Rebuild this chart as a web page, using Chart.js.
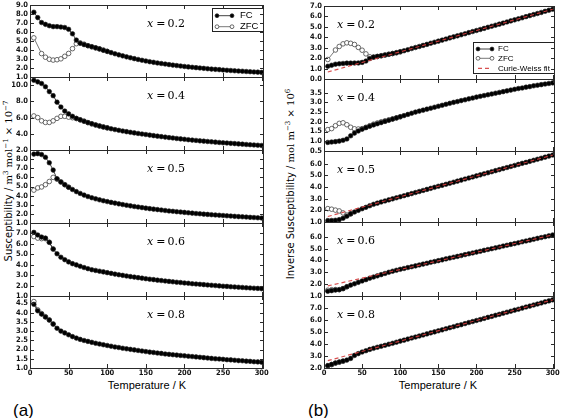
<!DOCTYPE html>
<html>
<head>
<meta charset="utf-8">
<script src="https://cdn.jsdelivr.net/npm/chart.js@4.4.0/dist/chart.umd.min.js"></script>
<style>
  html, body { margin: 0; padding: 0; background: #fff; }
  #fig { position: relative; width: 561px; height: 418px; overflow: hidden; font-family: "DejaVu Sans", sans-serif; color: #000; }
  #fig canvas { position: absolute; }
  .txt { position: absolute; white-space: nowrap; line-height: 1; }
  .ytitle { font-size: 10px; transform: translate(-50%, -50%) rotate(-90deg); }
  .ytitle .u { font-family: "DejaVu Serif", serif; }
  .ytitle sup { font-size: 70%; vertical-align: 4px; }
  .xtitle { font-family: "Liberation Sans", sans-serif; font-size: 11px; transform: translate(-50%, -50%); }
  .tag { font-family: "Liberation Sans", sans-serif; font-size: 17px; transform: translateY(-50%); }
</style>
</head>
<body>
<div id="fig">
  <div class="txt ytitle" style="left:8px; top:181px;">Susceptibility / <span class="u">m<sup>3</sup> mol<sup>−1</sup> × 10<sup>−7</sup></span></div>
  <div class="txt ytitle" style="left:290px; top:184px;">Inverse Susceptibility / <span class="u">mol m<sup>−3</sup> × 10<sup>6</sup></span></div>
  <div class="txt xtitle" style="left:147px; top:385px;">Temperature / K</div>
  <div class="txt xtitle" style="left:438px; top:385px;">Temperature / K</div>
  <div class="txt tag" style="left:13px; top:410px;">(a)</div>
  <div class="txt tag" style="left:308px; top:410px;">(b)</div>
</div>
<script>
// Temperatures (K) of the measured points
const temps = [5, 10, 15, 20, 25, 30, 35, 40, 45, 50, 55, 60, 65, 70, 75, 80, 85, 90, 95, 100,
  105, 110, 115, 120, 125, 130, 135, 140, 145, 150, 155, 160, 165, 170, 175, 180, 185, 190, 195, 200,
  205, 210, 215, 220, 225, 230, 235, 240, 245, 250, 255, 260, 265, 270, 275, 280, 285, 290, 295, 300];
const cwTemps = [5, 300];
const compositions = ["0.2", "0.4", "0.5", "0.6", "0.8"];
const xTicks = [0, 50, 100, 150, 200, 250, 300];
const legendLabels = ["FC", "ZFC", "Curie-Weiss fit"];

// (a) susceptibility, x 10^-7 m^3 mol^-1
const chiFC02 = [8.2, 7.6, 7.05, 6.85, 6.7, 6.6, 6.6, 6.55, 6.5, 6.3, 5.8, 5.1, 4.75, 4.6, 4.48, 4.36, 4.24, 4.12, 3.98, 3.85,
  3.71, 3.58, 3.46, 3.35, 3.24, 3.14, 3.04, 2.95, 2.86, 2.78, 2.7, 2.63, 2.56, 2.5, 2.44, 2.38, 2.32, 2.27, 2.22, 2.17,
  2.12, 2.08, 2.04, 2.0, 1.96, 1.92, 1.88, 1.85, 1.82, 1.78, 1.75, 1.72, 1.69, 1.66, 1.64, 1.61, 1.59, 1.56, 1.54, 1.51];
const chiZFC02 = [5.35, null, 3.6, 3.2, 2.97, 2.88, 2.92, 3.02, 3.3, 3.62, 4.15, 4.7, 4.78, 4.65, 4.48, 4.36, 4.24, 4.12, 3.98, 3.85];

const chiFC04 = [10.6, 10.4, 10.2, 9.8, 9.2, 8.7, 7.9, 7.3, 6.8, 6.45, 6.15, 5.9, 5.72, 5.55, 5.38, 5.23, 5.09, 4.96, 4.84, 4.73,
  4.62, 4.52, 4.43, 4.34, 4.26, 4.18, 4.11, 4.04, 3.97, 3.91, 3.84, 3.77, 3.71, 3.65, 3.59, 3.53, 3.48, 3.42, 3.37, 3.32,
  3.27, 3.22, 3.18, 3.13, 3.09, 3.05, 3.01, 2.97, 2.93, 2.89, 2.86, 2.82, 2.79, 2.75, 2.72, 2.68, 2.65, 2.62, 2.59, 2.56];
const chiZFC04 = [6.2, 6.0, 5.6, 5.4, 5.4, 5.6, 5.9, 6.15, 6.15, 6.05, 5.98, 5.88, 5.72, 5.55, 5.38, 5.23, 5.09, 4.96, 4.84, 4.73];

const chiFC05 = [8.55, 8.6, 8.5, 8.2, 7.6, 6.8, 5.85, 5.5, 5.2, 4.92, 4.67, 4.44, 4.24, 4.06, 3.9, 3.77, 3.65, 3.54, 3.44, 3.35,
  3.26, 3.18, 3.1, 3.02, 2.95, 2.88, 2.81, 2.75, 2.69, 2.63, 2.57, 2.52, 2.47, 2.42, 2.37, 2.32, 2.28, 2.24, 2.2, 2.16,
  2.12, 2.08, 2.04, 2.01, 1.97, 1.94, 1.91, 1.88, 1.85, 1.82, 1.79, 1.76, 1.73, 1.7, 1.68, 1.65, 1.62, 1.6, 1.57, 1.55];
const chiZFC05 = [4.6, 4.85, 4.95, 5.2, 5.55, 6.0, 5.8, 5.5, 5.2, 4.92];

const chiFC06 = [7.1, 6.85, 6.65, 6.55, 6.15, 5.5, 5.05, 4.72, 4.48, 4.27, 4.1, 3.98, 3.85, 3.73, 3.62, 3.52, 3.45, 3.38, 3.31, 3.24,
  3.17, 3.1, 3.04, 2.98, 2.92, 2.86, 2.81, 2.76, 2.71, 2.66, 2.61, 2.57, 2.52, 2.48, 2.44, 2.4, 2.36, 2.32, 2.29, 2.25,
  2.22, 2.18, 2.15, 2.12, 2.09, 2.06, 2.03, 2.0, 1.97, 1.94, 1.92, 1.89, 1.87, 1.84, 1.82, 1.79, 1.77, 1.75, 1.73, 1.7];
const chiZFC06 = [6.7, 6.55, 6.5, 6.5, 6.15, 5.5];

const chiFC08 = [4.45, 4.1, 3.92, 3.76, 3.6, 3.38, 3.15, 3.0, 2.9, 2.8, 2.7, 2.62, 2.55, 2.49, 2.44, 2.39, 2.34, 2.3, 2.26, 2.22,
  2.18, 2.14, 2.11, 2.07, 2.04, 2.01, 1.98, 1.95, 1.92, 1.89, 1.86, 1.84, 1.81, 1.79, 1.76, 1.74, 1.72, 1.7, 1.68, 1.66,
  1.64, 1.62, 1.6, 1.58, 1.56, 1.54, 1.52, 1.5, 1.49, 1.47, 1.45, 1.44, 1.42, 1.4, 1.39, 1.37, 1.36, 1.34, 1.33, 1.31];
const chiZFC08 = [4.6, 4.15, 3.95, 3.78, 3.6, 3.38];

// (b) inverse susceptibility, x 10^6 mol m^-3
const invFC02 = [1.22, 1.32, 1.42, 1.46, 1.49, 1.52, 1.52, 1.53, 1.54, 1.59, 1.72, 1.96, 2.1, 2.17, 2.23, 2.3, 2.37, 2.44, 2.52, 2.61,
  2.71, 2.81, 2.92, 3.02, 3.12, 3.22, 3.32, 3.43, 3.53, 3.63, 3.73, 3.83, 3.94, 4.04, 4.14, 4.24, 4.34, 4.45, 4.55, 4.65,
  4.75, 4.85, 4.96, 5.06, 5.16, 5.26, 5.36, 5.47, 5.57, 5.67, 5.77, 5.87, 5.98, 6.08, 6.18, 6.28, 6.38, 6.49, 6.59, 6.69];
const invZFC02 = [1.87, null, 2.78, 3.12, 3.37, 3.47, 3.42, 3.31, 3.03, 2.76, 2.41, 2.13, 2.09, 2.15, 2.23, 2.3, 2.37, 2.44, 2.52, 2.61];
const cwFit02 = [0.67, 6.69];

const invFC04 = [0.94, 0.96, 0.98, 1.01, 1.05, 1.12, 1.28, 1.42, 1.53, 1.62, 1.7, 1.77, 1.84, 1.9, 1.96, 2.02, 2.08, 2.14, 2.2, 2.26,
  2.32, 2.38, 2.44, 2.5, 2.55, 2.6, 2.65, 2.7, 2.75, 2.8, 2.85, 2.9, 2.95, 3.0, 3.04, 3.09, 3.13, 3.18, 3.22, 3.27,
  3.31, 3.35, 3.39, 3.43, 3.47, 3.51, 3.55, 3.59, 3.63, 3.67, 3.71, 3.74, 3.78, 3.81, 3.85, 3.88, 3.91, 3.94, 3.97, 4.0];
const invZFC04 = [1.6, 1.65, 1.8, 1.92, 1.95, 1.85, 1.72, 1.64, 1.63, 1.65, 1.72, 1.8, 1.88, 1.94, 2.0, 2.05, 2.1, 2.15, 2.2, 2.26];

const invFC05 = [1.12, 1.13, 1.15, 1.2, 1.32, 1.5, 1.7, 1.86, 2.0, 2.14, 2.26, 2.4, 2.52, 2.62, 2.72, 2.81, 2.9, 2.99, 3.08, 3.17,
  3.26, 3.35, 3.44, 3.53, 3.62, 3.71, 3.8, 3.89, 3.98, 4.07, 4.15, 4.24, 4.33, 4.42, 4.51, 4.6, 4.69, 4.78, 4.87, 4.96,
  5.05, 5.14, 5.23, 5.32, 5.41, 5.5, 5.59, 5.68, 5.77, 5.86, 5.95, 6.04, 6.12, 6.21, 6.3, 6.39, 6.48, 6.57, 6.66, 6.75];
const invZFC05 = [2.15, 2.1, 2.02, 1.95, 1.78, 1.6, 1.7];
const cwFit05 = [1.47, 6.75];

const invFC06 = [1.4, 1.45, 1.5, 1.53, 1.62, 1.78, 1.92, 2.03, 2.15, 2.27, 2.38, 2.5, 2.6, 2.7, 2.8, 2.9, 3.0, 3.09, 3.17, 3.25,
  3.32, 3.4, 3.47, 3.54, 3.62, 3.69, 3.76, 3.84, 3.91, 3.98, 4.05, 4.13, 4.2, 4.27, 4.34, 4.41, 4.49, 4.56, 4.63, 4.7,
  4.77, 4.85, 4.92, 4.99, 5.06, 5.13, 5.21, 5.28, 5.35, 5.42, 5.49, 5.57, 5.64, 5.71, 5.78, 5.86, 5.93, 6.0, 6.07, 6.15];
const invZFC06 = [1.49, 1.53, 1.54, 1.54, 1.63, 1.78];
const cwFit06 = [1.85, 6.15];

const invFC08 = [2.2, 2.3, 2.42, 2.5, 2.58, 2.66, 2.8, 3.05, 3.2, 3.33, 3.44, 3.55, 3.64, 3.73, 3.81, 3.89, 3.98, 4.06, 4.15, 4.24,
  4.32, 4.41, 4.5, 4.58, 4.67, 4.75, 4.84, 4.93, 5.01, 5.1, 5.18, 5.27, 5.36, 5.44, 5.53, 5.61, 5.7, 5.79, 5.87, 5.96,
  6.04, 6.13, 6.22, 6.3, 6.39, 6.47, 6.56, 6.65, 6.73, 6.82, 6.9, 6.99, 7.08, 7.16, 7.25, 7.33, 7.42, 7.51, 7.59, 7.68];
const invZFC08 = [2.17, 2.28, 2.4, 2.48, 2.56];
const cwFit08 = [2.61, 7.68];

// axis limits and tick labels for each panel
const chiRanges = [[1, 9], [2, 11], [1, 9], [1, 8], [1, 4.9]];
const chiTicks = [[1, 2, 3, 4, 5, 6, 7, 8, 9], [2, 4, 6, 8, 10], [1, 2, 3, 4, 5, 6, 7, 8], [1, 2, 3, 4, 5, 6, 7],
  [1, 1.5, 2, 2.5, 3, 3.5, 4, 4.5]];
const invRanges = [[0, 7], [0.5, 4.2], [1, 7.1], [1, 7.24], [2, 8]];
const invTicks = [[0, 1, 2, 3, 4, 5, 6, 7], [0.5, 1, 1.5, 2, 2.5, 3, 3.5], [1, 2, 3, 4, 5, 6], [1, 2, 3, 4, 5, 6],
  [2, 3, 4, 5, 6, 7]];

const cwColor = "rgba(212, 62, 62, 0.9)";
const tickFont = { family: "'DejaVu Sans Condensed', 'Liberation Sans'", size: 7.5, weight: "bold" };

function points(xs, ys) {
  return ys.map((v, i) => ({ x: xs[i], y: v }));
}

// draw a legend symbol: line with markers, or dashed line
function drawSymbol(ctx, type, x0, x1, y) {
  ctx.save();
  if (type === "cw") {
    ctx.strokeStyle = cwColor;
    ctx.lineWidth = 1.2;
    ctx.setLineDash([4, 3]);
    ctx.beginPath(); ctx.moveTo(x0, y); ctx.lineTo(x1, y); ctx.stroke();
  } else {
    ctx.strokeStyle = type === "fc" ? "#111" : "#555";
    ctx.lineWidth = 0.8;
    ctx.beginPath(); ctx.moveTo(x0, y); ctx.lineTo(x1, y); ctx.stroke();
    [x0, x1].forEach(x => {
      ctx.beginPath();
      ctx.arc(x, y, 1.9, 0, Math.PI * 2);
      ctx.fillStyle = type === "fc" ? "#000" : "#fff";
      ctx.fill();
      ctx.strokeStyle = type === "fc" ? "#222" : "#444";
      ctx.stroke();
    });
  }
  ctx.restore();
}

// frame, inward ticks, composition label and legend
const panelDecor = {
  id: "panelDecor",
  afterDraw(chart, args, opts) {
    const ctx = chart.ctx;
    const a = chart.chartArea;
    const xs = chart.scales.x;
    const ys = chart.scales.y;
    ctx.save();

    // composition label
    const tx = a.left + opts.textX;
    const ty = a.top + 19;
    ctx.fillStyle = "#000";
    ctx.textBaseline = "middle";
    ctx.textAlign = "left";
    ctx.font = "italic 11px 'DejaVu Serif'";
    ctx.fillText("x", tx, ty);
    let w = ctx.measureText("x").width + 3;
    ctx.font = "11px 'DejaVu Serif'";
    ctx.fillText("=", tx + w, ty);
    w += ctx.measureText("=").width + 2;
    ctx.fillText(opts.label, tx + w, ty);

    // legend
    if (opts.legend) {
      const lg = opts.legend;
      const bx = a.right - lg.width;
      const by = a.top + lg.top;
      ctx.fillStyle = "#fff";
      ctx.fillRect(bx, by, lg.width, lg.height);
      ctx.strokeStyle = "#222";
      ctx.lineWidth = 1;
      ctx.strokeRect(bx + 0.5, by + 0.5, lg.width - 1, lg.height - 1);
      lg.items.forEach((type, i) => {
        const y = by + lg.rows[i];
        drawSymbol(ctx, type, bx + lg.symX[0], bx + lg.symX[1], y);
        ctx.font = lg.font + "px 'Liberation Sans'";
        ctx.fillStyle = "#000";
        ctx.fillText(legendLabels[i], bx + lg.textX, y);
      });
    }

    // frame and ticks
    ctx.strokeStyle = "#2a2a2a";
    ctx.lineWidth = 1;
    ctx.strokeRect(a.left + 0.5, a.top + 0.5, a.right - a.left - 1, a.bottom - a.top);
    ctx.beginPath();
    xTicks.forEach(v => {
      const px = Math.round(xs.getPixelForValue(v)) + 0.5;
      ctx.moveTo(px, a.bottom); ctx.lineTo(px, a.bottom - 4);
      ctx.moveTo(px, a.top); ctx.lineTo(px, a.top + 4);
    });
    opts.yTicks.forEach(v => {
      const py = Math.round(ys.getPixelForValue(v)) + 0.5;
      ctx.moveTo(a.left, py); ctx.lineTo(a.left + 4, py);
      ctx.moveTo(a.right, py); ctx.lineTo(a.right - 4, py);
    });
    ctx.stroke();
    ctx.restore();
  }
};

const columns = [
  {
    left: 0, width: 280, axisWidth: 30, padRight: 16, tops: [5, 77, 150, 223, 296], textX: 117,
    fc: [chiFC02, chiFC04, chiFC05, chiFC06, chiFC08],
    zfc: [chiZFC02, chiZFC04, chiZFC05, chiZFC06, chiZFC08],
    cw: [null, null, null, null, null],
    ranges: chiRanges, ticks: chiTicks,
    legend: { width: 52, height: 24, top: 3, rows: [7.7, 18.7], symX: [5, 20], textX: 28, font: 9.5, items: ["fc", "zfc"] }
  },
  {
    left: 280, width: 281, axisWidth: 44, padRight: 6, tops: [6, 79, 151, 222, 296], textX: 13,
    fc: [invFC02, invFC04, invFC05, invFC06, invFC08],
    zfc: [invZFC02, invZFC04, invZFC05, invZFC06, invZFC08],
    cw: [cwFit02, null, cwFit05, cwFit06, cwFit08],
    ranges: invRanges, ticks: invTicks,
    legend: { width: 82, height: 32, top: 36, rows: [7, 16.3, 26.3], symX: [5, 19], textX: 25, font: 8, items: ["fc", "zfc", "cw"] }
  }
];
const plotBottom = 368;

const fig = document.getElementById("fig");

columns.forEach(col => {
  for (let row = 0; row < 5; row++) {
    const top = col.tops[row];
    const bottom = row < 4 ? col.tops[row + 1] : plotBottom;
    const h = bottom - top;
    const isBottom = row === 4;
    const canvasH = isBottom ? h + 25 : h + 14;

    const canvas = document.createElement("canvas");
    canvas.width = col.width;
    canvas.height = canvasH;
    canvas.style.left = col.left + "px";
    canvas.style.top = (top - 7) + "px";
    canvas.style.width = col.width + "px";
    canvas.style.height = canvasH + "px";
    fig.appendChild(canvas);

    const datasets = [];
    if (col.cw[row]) {
      datasets.push({
        data: points(cwTemps, col.cw[row]),
        borderColor: cwColor, borderWidth: 1.2, borderDash: [4, 3], pointRadius: 0
      });
    }
    datasets.push({
      data: points(temps, col.fc[row]),
      borderColor: "#111", borderWidth: 0.8,
      pointRadius: 2.3, pointBackgroundColor: "#000", pointBorderColor: "#222", pointBorderWidth: 0.6
    });
    datasets.push({
      data: points(temps, col.zfc[row]),
      borderColor: "#555", borderWidth: 0.8, spanGaps: true,
      pointRadius: 2.3, pointBackgroundColor: "#fff", pointBorderColor: "#444", pointBorderWidth: 0.8
    });

    const yTicks = col.ticks[row];
    new Chart(canvas, {
      type: "line",
      data: { datasets },
      options: {
        responsive: false,
        animation: false,
        events: [],
        devicePixelRatio: 1,
        layout: { padding: { left: 0, right: col.padRight, top: 7, bottom: isBottom ? 4 : 7 } },
        elements: { line: { tension: 0 } },
        plugins: {
          legend: { display: false },
          tooltip: { enabled: false },
          panelDecor: {
            label: compositions[row],
            textX: col.textX,
            yTicks: yTicks,
            legend: row === 0 ? col.legend : null
          }
        },
        scales: {
          x: {
            type: "linear", min: 0, max: 303,
            display: isBottom,
            afterBuildTicks: s => { s.ticks = xTicks.map(v => ({ value: v })); },
            afterFit: s => { if (isBottom) s.height = 14; },
            grid: { display: false, drawTicks: false },
            border: { display: false },
            ticks: { font: tickFont, color: "#111", padding: 1, maxRotation: 0, autoSkip: false }
          },
          y: {
            min: col.ranges[row][0], max: col.ranges[row][1],
            afterBuildTicks: s => { s.ticks = yTicks.map(v => ({ value: v })); },
            afterFit: s => { s.width = col.axisWidth; },
            grid: { display: false, drawTicks: false },
            border: { display: false },
            ticks: { font: tickFont, color: "#111", padding: 2, autoSkip: false, callback: v => Number(v).toFixed(1) }
          }
        }
      },
      plugins: [panelDecor]
    });
  }
});
</script>
</body>
</html>
